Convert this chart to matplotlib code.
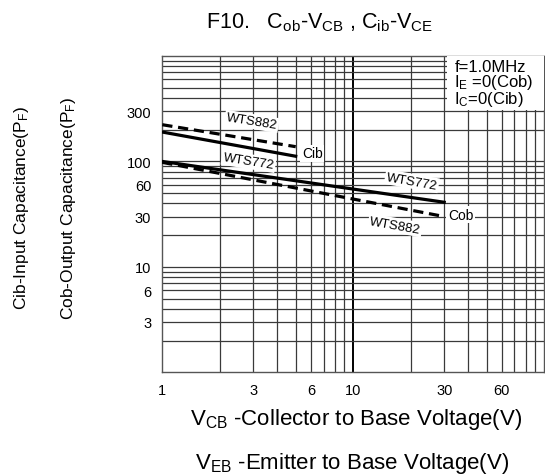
import numpy as np
import matplotlib
matplotlib.use('Agg')
import matplotlib.pyplot as plt

plt.rcParams['font.family'] = ['Liberation Sans', 'DejaVu Sans']
plt.rcParams['mathtext.fontset'] = 'custom'
plt.rcParams['mathtext.rm'] = 'Liberation Sans'
plt.rcParams['mathtext.it'] = 'Liberation Sans:italic'

# Cob vs VCB (1..30 V)
vcb = [1, 30]
cob_wts772 = [100, 41]
cob_wts882 = [98, 30]

# Cib vs VEB (1..5 V)
veb = [1, 5]
cib_wts772 = [190, 112]
cib_wts882 = [223, 138]

x_ticks = [1, 3, 6, 10, 30, 60]
y_ticks = [3, 6, 10, 30, 60, 100, 300]

fig = plt.figure(figsize=(5.45, 4.77), dpi=100)
ax = fig.add_axes([0.2978, 0.2174, 0.7004, 0.6631])
ax.set_xscale('log')
ax.set_yscale('log')
ax.set_xlim(1, 100)
ax.set_ylim(1, 1000)

# log paper grid
for d in [1, 10]:
    for k in range(1, 10):
        v = k * d
        if v == 1:
            continue
        ax.axvline(v, color='black' if v == 10 else '#3a3a3a',
                   lw=1.4 if v == 10 else 0.9, zorder=1)
for d in [1, 10, 100]:
    for k in range(1, 10):
        v = k * d
        if v == 1:
            continue
        ax.axhline(v, color='#3a3a3a', lw=0.9, zorder=1)

for s in ax.spines.values():
    s.set_color('#555555')
    s.set_linewidth(1.0)

ax.set_xticks(x_ticks)
ax.set_xticklabels([str(t) for t in x_ticks])
ax.set_yticks(y_ticks)
ax.set_yticklabels([str(t) for t in y_ticks])
ax.xaxis.set_minor_locator(matplotlib.ticker.NullLocator())
ax.yaxis.set_minor_locator(matplotlib.ticker.NullLocator())
ax.tick_params(axis='both', length=0, labelsize=10.5)
ax.tick_params(axis='x', pad=8)
ax.tick_params(axis='y', pad=8)

# curves
ax.plot(veb, cib_wts882, color='black', lw=2.3, ls=(0, (3.2, 1.8)), zorder=3)
ax.plot(veb, cib_wts772, color='black', lw=2.3, zorder=3)
ax.plot(vcb, cob_wts772, color='black', lw=2.3, zorder=3)
ax.plot(vcb, cob_wts882, color='black', lw=2.3, ls=(0, (3.2, 1.8)), zorder=3)

box = dict(facecolor='white', edgecolor='none', pad=1.0)
ax.text(2.94, 240, 'WTS882', rotation=-9, ha='center', va='center',
        fontsize=9.5, bbox=box, zorder=4)
ax.text(6.1, 119, 'Cib', ha='center', va='center', fontsize=10,
        bbox=box, zorder=4)
ax.text(2.83, 100, 'WTS772', rotation=-9, ha='center', va='center',
        fontsize=9.5, bbox=box, zorder=4)
ax.text(20.3, 65, 'WTS772', rotation=-10, ha='center', va='center',
        fontsize=9.5, bbox=box, zorder=4)
ax.text(36.5, 31.3, 'Cob', ha='center', va='center', fontsize=10,
        bbox=box, zorder=4)
ax.text(16.6, 24.8, 'WTS882', rotation=-10, ha='center', va='center',
        fontsize=9.5, bbox=box, zorder=4)

# condition box
ax.add_patch(plt.Rectangle((0.745, 0.828), 0.26, 0.172, transform=ax.transAxes,
                           facecolor='white', edgecolor='none', zorder=4))
ax.text(0.765, 0.99, 'f=1.0MHz\n$\\mathregular{I_E}$ =0(Cob)\n$\\mathregular{I_C}$=0(Cib)',
        transform=ax.transAxes, ha='left', va='top', fontsize=12,
        linespacing=0.85, zorder=5)

fig.text(0.587, 0.952,
         'F10.   $\\mathregular{C_{ob}}$-$\\mathregular{V_{CB}}$ , '
         '$\\mathregular{C_{ib}}$-$\\mathregular{V_{CE}}$',
         ha='center', va='center', fontsize=15.5)
fig.text(0.654, 0.121, '$\\mathregular{V_{CB}}$ -Collector to Base Voltage(V)',
         ha='center', va='center', fontsize=16)
fig.text(0.646, 0.028, '$\\mathregular{V_{EB}}$ -Emitter to Base Voltage(V)',
         ha='center', va='center', fontsize=16)
fig.text(0.040, 0.564, 'Cib-Input Capacitance($\\mathregular{P_F}$)',
         rotation=90, ha='center', va='center', fontsize=12.5)
fig.text(0.125, 0.563, 'Cob-Output Capacitance($\\mathregular{P_F}$)',
         rotation=90, ha='center', va='center', fontsize=12.5)

fig.savefig('out.png', dpi=100, facecolor='white')
